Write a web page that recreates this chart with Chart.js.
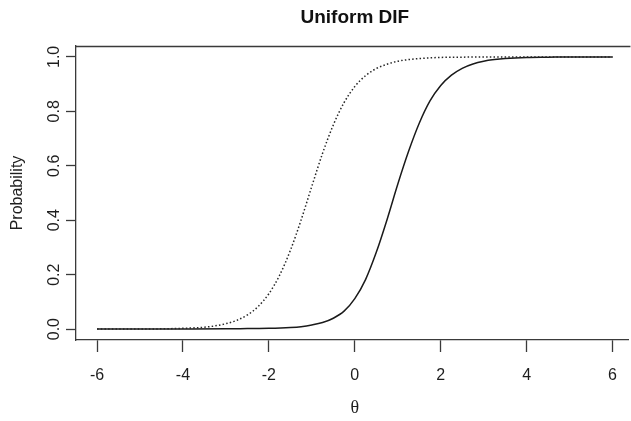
<!DOCTYPE html>
<html>
<head>
<meta charset="utf-8">
<script src="https://cdn.jsdelivr.net/npm/chart.js@4/dist/chart.umd.min.js"></script>
<style>
  html, body { margin: 0; padding: 0; background: #fff; overflow: hidden; }
  #wrap { width: 631px; height: 421px; position: relative; }
</style>
</head>
<body>
<div id="wrap"><canvas id="c" width="631" height="421"></canvas></div>
<script>
// ---- data ----
const chartTitle = "Uniform DIF";
const xAxisTitle = "\u03B8";
const yAxisTitle = "Probability";

const xTickValues = [-6, -4, -2, 0, 2, 4, 6];
const xTickLabels = ["-6", "-4", "-2", "0", "2", "4", "6"];
const yTickValues = [0, 0.2, 0.4, 0.6, 0.8, 1.0];
const yTickLabels = ["0.0", "0.2", "0.4", "0.6", "0.8", "1.0"];

// dotted curve (reference group)
const dottedTheta = [-6, -5.5, -5, -4.5, -4, -3.5, -3.25, -3, -2.75, -2.5, -2.25, -2, -1.75, -1.5, -1.25, -1, -0.75, -0.5, -0.25, 0, 0.25, 0.5, 0.75, 1, 1.25, 1.5, 2, 2.5, 3, 4, 5, 6];
const dottedProb  = [0.000, 0.000, 0.0004, 0.001, 0.003, 0.007, 0.012, 0.020, 0.032, 0.052, 0.083, 0.130, 0.198, 0.289, 0.401, 0.525, 0.646, 0.750, 0.832, 0.891, 0.931, 0.957, 0.973, 0.984, 0.990, 0.994, 0.998, 0.999, 1.000, 1.000, 1.000, 1.000];

// solid curve (focal group)
const solidTheta = [-6, -5, -4, -3, -2.5, -2, -1.5, -1.25, -1, -0.75, -0.5, -0.25, 0, 0.25, 0.5, 0.75, 1, 1.25, 1.5, 1.75, 2, 2.25, 2.5, 2.75, 3, 3.25, 3.5, 4, 4.5, 5, 5.5, 6];
const solidProb  = [0.000, 0.000, 0.0003, 0.001, 0.002, 0.003, 0.006, 0.009, 0.015, 0.024, 0.040, 0.066, 0.112, 0.182, 0.282, 0.402, 0.532, 0.652, 0.756, 0.838, 0.895, 0.933, 0.958, 0.974, 0.984, 0.990, 0.994, 0.998, 0.999, 1.000, 1.000, 1.000];

const xMin = -6.49, xMax = 6.37;
const yMin = -0.04, yMax = 1.04;

const toPoints = (xs, ys) => xs.map((x, i) => ({ x: x, y: ys[i] }));

const FONT = "'Liberation Sans', Arial, Helvetica, sans-serif";
const AXIS_COLOR = "#3a3a3a";
const TEXT_COLOR = "#1e1e1e";

const frameAndText = {
  id: "frameAndText",
  afterDraw(chart) {
    const ctx = chart.ctx;
    const a = chart.chartArea;
    const ys = chart.scales.y;
    const xs = chart.scales.x;
    const cx = xs.getPixelForValue(0);
    ctx.save();
    // top line of the box (the box's right side lies outside the picture)
    ctx.strokeStyle = AXIS_COLOR;
    ctx.lineWidth = 1.3;
    ctx.beginPath();
    ctx.moveTo(a.left, a.top + 0.5);
    ctx.lineTo(a.right + 2, a.top + 0.5);
    ctx.stroke();

    // title
    ctx.fillStyle = "#111";
    ctx.font = "bold 19px " + FONT;
    ctx.textAlign = "center";
    ctx.textBaseline = "middle";
    ctx.fillText(chartTitle, cx, 18);

    // y tick labels, rotated like base R
    ctx.fillStyle = TEXT_COLOR;
    ctx.font = "16px " + FONT;
    yTickValues.forEach((v, i) => {
      const py = ys.getPixelForValue(v);
      ctx.save();
      ctx.translate(55, py);
      ctx.rotate(-Math.PI / 2);
      ctx.textAlign = "center";
      ctx.textBaseline = "middle";
      ctx.fillText(yTickLabels[i], 0, 0);
      ctx.restore();
    });

    // y axis title
    ctx.save();
    ctx.translate(18, (a.top + a.bottom) / 2);
    ctx.rotate(-Math.PI / 2);
    ctx.font = "16px " + FONT;
    ctx.textAlign = "center";
    ctx.textBaseline = "middle";
    ctx.fillText(yAxisTitle, 0, 0);
    ctx.restore();

    // x axis title
    ctx.font = "18px 'Liberation Serif', 'Times New Roman', serif";
    ctx.textAlign = "center";
    ctx.textBaseline = "middle";
    ctx.fillText(xAxisTitle, cx, 408);
    ctx.restore();
  }
};

new Chart(document.getElementById("c"), {
  type: "line",
  data: {
    datasets: [
      {
        label: "dotted",
        data: toPoints(dottedTheta, dottedProb),
        borderColor: "#262626",
        borderWidth: 1.5,
        borderDash: [1.5, 2.2],
        pointRadius: 0,
        fill: false,
        cubicInterpolationMode: "monotone"
      },
      {
        label: "solid",
        data: toPoints(solidTheta, solidProb),
        borderColor: "#1a1a1a",
        borderWidth: 1.5,
        pointRadius: 0,
        fill: false,
        cubicInterpolationMode: "monotone"
      }
    ]
  },
  options: {
    responsive: false,
    animation: false,
    events: [],
    layout: { padding: { left: 0, top: 46, right: 0, bottom: 0 } },
    plugins: { legend: { display: false }, title: { display: false }, tooltip: { enabled: false } },
    scales: {
      x: {
        type: "linear",
        min: xMin,
        max: xMax,
        afterBuildTicks: (s) => { s.ticks = xTickValues.map(v => ({ value: v })); },
        afterFit: (s) => { s.height = 81; },
        grid: { drawOnChartArea: false, drawTicks: true, tickLength: 12, color: AXIS_COLOR, tickWidth: 1.3 },
        border: { display: true, color: AXIS_COLOR, width: 1.3 },
        ticks: {
          autoSkip: false,
          maxRotation: 0,
          minRotation: 0,
          padding: 14,
          color: TEXT_COLOR,
          font: { family: FONT, size: 16 },
          callback: (v) => { const i = xTickValues.indexOf(v); return i >= 0 ? xTickLabels[i] : ""; }
        }
      },
      y: {
        type: "linear",
        min: yMin,
        max: yMax,
        afterBuildTicks: (s) => { s.ticks = yTickValues.map(v => ({ value: v })); },
        afterFit: (s) => { s.width = 76; },
        grid: { drawOnChartArea: false, drawTicks: true, tickLength: 10, color: AXIS_COLOR, tickWidth: 1.3 },
        border: { display: true, color: AXIS_COLOR, width: 1.3 },
        ticks: { display: false }
      }
    }
  },
  plugins: [frameAndText]
});
</script>
</body>
</html>
